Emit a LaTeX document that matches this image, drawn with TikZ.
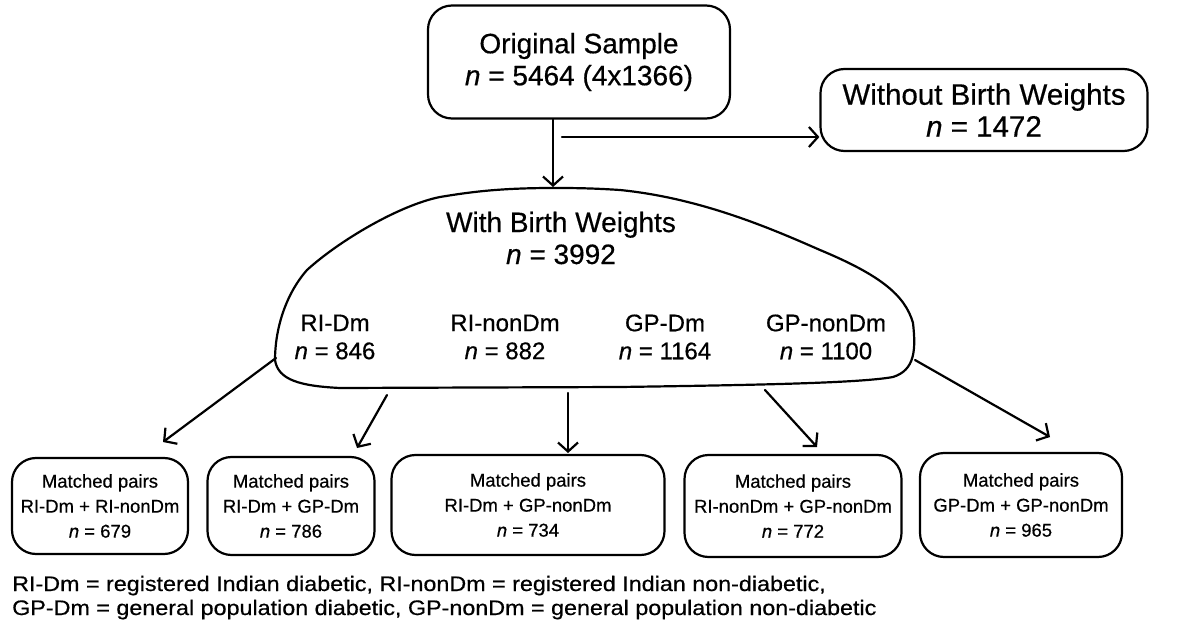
\documentclass[tikz,border=0pt]{standalone}
\usepackage{fontspec}
\setmainfont{Liberation Sans}[FakeBold=0.5, ItalicFeatures={FakeBold=0.5}]
\usetikzlibrary{arrows.meta}
\begin{document}
\begin{tikzpicture}[x=1pt,y=-1pt,
  ink/.style={line width=2.2pt, line join=round, line cap=round},
  blob/.style={ink, draw, rounded corners=24pt, align=center, inner sep=0pt},
  flow/.style={ink, -{Straight Barb[length=9pt,width=20pt,line width=2.2pt]}},
  big/.style={font=\fontsize{28}{32}\selectfont},
  mid/.style={font=\fontsize{24}{28}\selectfont},
  small/.style={font=\fontsize{18.5}{25}\selectfont, align=center}]
\useasboundingbox (0,0) rectangle (1181,631);

% top row
\node[blob, big, minimum width=302pt, minimum height=113pt] (orig) at (579,62)
  {Original Sample\\\textit{n} = 5464 (4x1366)};
\node[blob, font=\fontsize{29.5}{32}\selectfont, minimum width=327pt, minimum height=82pt] (without) at (984,110)
  {Without Birth Weights\\\textit{n} = 1472};

% dome holding the birth-weight subgroups
\draw[ink] (553,188) .. controls (500,188) and (470,192) .. (440,197)
  .. controls (400,205) and (340,240) .. (307,270)
  .. controls (285,295) and (275,330) .. (275,360)
  .. controls (278,380) and (300,386) .. (340,388)
  -- (620,387)
  .. controls (760,385) and (860,383) .. (893,377)
  .. controls (915,370) and (916,350) .. (913,323)
  .. controls (905,295) and (880,275) .. (820,250)
  .. controls (770,228) and (700,198) .. (620,190)
  .. controls (590,188) and (570,188) .. (553,188) -- cycle;
\coordinate (dtop) at (553,187);
\node[big, align=center] (with) at (561,238) {With Birth Weights\\\textit{n} = 3992};
\node[mid, align=center] (ridm)  at (335,337) {RI-Dm\\\textit{n} = 846};
\node[mid, align=center] (rinon) at (505,337) {RI-nonDm\\\textit{n} = 882};
\node[mid, align=center] (gpdm)  at (665,337) {GP-Dm\\\textit{n} = 1164};
\node[mid, align=center] (gpnon) at (826,337) {GP-nonDm\\\textit{n} = 1100};

% start points of the arrows on the dome outline
\coordinate (d1) at (276,358);
\coordinate (d2) at (387,395);
\coordinate (d3) at (568,393);
\coordinate (d4) at (765,390);
\coordinate (d5) at (915,360);

% matched-pair boxes
\node[blob, small, minimum width=176pt, minimum height=96pt] (m1) at (100,506)
  {Matched pairs\\RI-Dm + RI-nonDm\\\textit{n} = 679};
\node[blob, small, minimum width=167pt, minimum height=98pt] (m2) at (291,506)
  {Matched pairs\\RI-Dm + GP-Dm\\\textit{n} = 786};
\node[blob, small, minimum width=273pt, minimum height=100pt] (m3) at (528,505)
  {Matched pairs\\RI-Dm + GP-nonDm\\\textit{n} = 734};
\node[blob, small, minimum width=217pt, minimum height=102pt] (m4) at (793,506)
  {Matched pairs\\RI-nonDm + GP-nonDm\\\textit{n} = 772};
\node[blob, small, minimum width=202pt, minimum height=104pt] (m5) at (1021,505)
  {Matched pairs\\GP-Dm + GP-nonDm\\\textit{n} = 965};

% arrow tips stop just above the boxes
\coordinate (t1) at (163,442);
\coordinate (t2) at (357,448);
\coordinate (t3) at (568,453);
\coordinate (t4) at (817,447);
\coordinate (t5) at (1050,437);

% connectors
\draw[flow] (orig.south -| dtop) -- (dtop);
\coordinate (split) at (562,137);
\draw[flow] (split) -- (split -| without.west);
\draw[flow] (d1) -- (t1);
\draw[flow] (d2) -- (t2);
\draw[flow] (d3) -- (t3);
\draw[flow] (d4) -- (t4);
\draw[flow] (d5) -- (t5);

% legend
\node[anchor=north west, inner sep=0pt] (note) at (12,574)
  {\scalebox{1.11}[1]{\fontsize{21}{24}\selectfont
   \begin{tabular}{@{}l@{}}
   RI-Dm = registered Indian diabetic, RI-nonDm = registered Indian non-diabetic,\\
   GP-Dm = general population diabetic, GP-nonDm = general population non-diabetic
   \end{tabular}}};
\end{tikzpicture}
\end{document}
